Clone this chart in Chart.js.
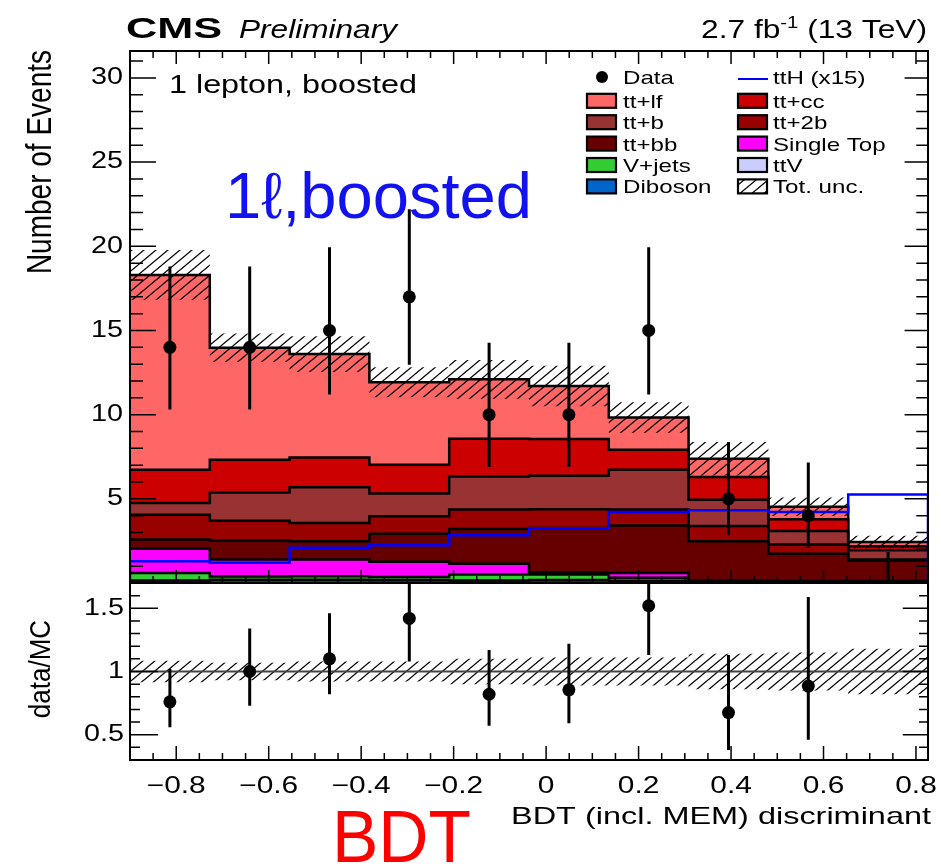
<!DOCTYPE html>
<html>
<head>
<meta charset="utf-8">
<script src="https://cdn.jsdelivr.net/npm/chart.js@4.4.1/dist/chart.umd.min.js"></script>
<style>
  html, body { margin: 0; padding: 0; background: #fff; }
  #wrap { position: relative; width: 941px; height: 868px; }
  #wrap canvas { position: absolute; left: 0; top: 0; }
</style>
</head>
<body>
<div id="wrap">
  <canvas id="mainChart" width="941" height="868"></canvas>
  <canvas id="ratioChart" width="941" height="868"></canvas>
</div>
<script>
// bins of the BDT output
const binEdges = [-0.9, -0.7274, -0.5548, -0.3822, -0.2096, -0.037, 0.1356, 0.3082, 0.4808, 0.6534, 0.826];
const xTicks = [-0.8, -0.6, -0.4, -0.2, 0, 0.2, 0.4, 0.6, 0.8];
const xTickLabels = ["\u22120.8", "\u22120.6", "\u22120.4", "\u22120.2", "0", "0.2", "0.4", "0.6", "0.8"];
const yTicks = [5, 10, 15, 20, 25, 30];
const yTickLabels = ["5", "10", "15", "20", "25", "30"];
const ratioTicks = [0.5, 1, 1.5];
const ratioTickLabels = ["0.5", "1", "1.5"];

// backgrounds (events per bin)
const ttlf = [11.57, 6.66, 6.14, 4.91, 3.53, 3.15, 1.92, 1.09, 0.75, 0.26];
const ttcc = [1.98, 1.94, 1.78, 1.71, 2.24, 2.18, 1.18, 1.34, 0.69, 0.23];
const ttb = [0.69, 1.68, 2.11, 1.35, 1.97, 1.99, 2.37, 1.56, 0.81, 0.55];
const tt2b = [1.48, 1.18, 1.09, 1.04, 1.15, 1.11, 0.95, 0.91, 0.54, 0.07];
const ttbb = [0.55, 1.13, 1.09, 1.66, 2.07, 2.65, 2.81, 2.33, 1.62, 1.21];
const singleTop = [1.43, 1.01, 0.99, 0.91, 0.64, 0.12, 0.29, 0.03, 0.02, 0.02];
const vJets = [0.45, 0.18, 0.20, 0.17, 0.35, 0.32, 0.17, 0.02, 0.02, 0.02];
const ttV = [0.12, 0.17, 0.17, 0.15, 0.12, 0.15, 0.12, 0.08, 0.06, 0.06];
const diboson = [0.03, 0.03, 0.03, 0.03, 0.03, 0.03, 0.02, 0.02, 0.02, 0.02];
const totUnc = [1.48, 0.84, 1.06, 0.89, 1.15, 1.2, 0.9, 1.0, 0.55, 0.37];

// signal x15
const ttH15 = [1.29, 1.20, 2.09, 2.24, 2.83, 3.25, 4.22, 4.32, 4.22, 5.25];

// data
const dataCounts = [14, 14, 15, 17, 10, 10, 15, 5, 4, 0];
const dataLow = [10.3, 10.3, 11.2, 12.96, 6.89, 6.89, 11.2, 2.84, 2.09, 0];
const dataHigh = [18.8, 18.8, 19.95, 22.2, 14.27, 14.27, 19.95, 8.38, 7.16, 1.84];

// data/MC
const ratioVals = [0.76, 1.0, 1.1, 1.42, 0.82, 0.855, 1.52, 0.675, 0.885, null];
const ratioLow = [0.56, 0.73, 0.82, 1.08, 0.57, 0.59, 1.13, 0.38, 0.46, null];
const ratioHigh = [1.02, 1.34, 1.46, 1.86, 1.17, 1.22, 2.0, 1.13, 1.59, null];
const ratioUnc = [0.085, 0.07, 0.08, 0.08, 0.10, 0.11, 0.11, 0.14, 0.15, 0.18];

const SANS = '"Liberation Sans", Arial, Helvetica, sans-serif';
const SX = 1.3; // ROOT text in the picture is stretched sideways

const binCenters = binEdges.slice(0, -1).map((e, i) => (e + binEdges[i + 1]) / 2);

function steps(values) {
  const pts = [];
  values.forEach((v, i) => {
    pts.push({ x: binEdges[i], y: v }, { x: binEdges[i + 1], y: v });
  });
  return pts;
}

function hatch() {
  const c = document.createElement("canvas");
  c.width = 12;
  c.height = 10;
  const g = c.getContext("2d");
  g.strokeStyle = "#000";
  g.lineWidth = 1.3;
  g.beginPath();
  g.moveTo(0, 10); g.lineTo(12, 0);
  g.moveTo(-3, 2.5); g.lineTo(3, -2.5);
  g.moveTo(9, 12.5); g.lineTo(15, 7.5);
  g.stroke();
  return g.createPattern(c, "repeat");
}
const hatchFill = hatch();

function rootText(ctx, str, x, y, opt) {
  ctx.save();
  ctx.font = (opt.style || "normal") + " " + (opt.weight || "normal") + " " + opt.size + "px " + SANS;
  ctx.fillStyle = opt.color || "#000";
  ctx.textAlign = opt.align || "left";
  ctx.textBaseline = opt.baseline || "alphabetic";
  let sx = opt.sx || SX;
  if (opt.width) sx = opt.width / ctx.measureText(str).width;
  ctx.translate(x, y);
  ctx.scale(sx, 1);
  if (opt.rotate) ctx.rotate(opt.rotate);
  ctx.fillText(str, 0, 0);
  ctx.restore();
}

function errorBars(lows, highs) {
  return {
    id: "errorBars",
    afterDatasetsDraw(chart) {
      const { ctx, chartArea: a, scales: { x, y } } = chart;
      ctx.save();
      ctx.beginPath();
      ctx.rect(a.left, a.top, a.right - a.left, a.bottom - a.top);
      ctx.clip();
      ctx.strokeStyle = "#000";
      ctx.lineWidth = 3;
      ctx.beginPath();
      lows.forEach((lo, i) => {
        if (lo === null) return;
        const px = x.getPixelForValue(binCenters[i]);
        ctx.moveTo(px, y.getPixelForValue(lo));
        ctx.lineTo(px, y.getPixelForValue(highs[i]));
      });
      ctx.stroke();
      ctx.restore();
    },
  };
}

function drawFrame(chart, yMinor, yMajorEvery, yLen, xLen, topTicks) {
  const { ctx, chartArea: a, scales: { x, y } } = chart;
  ctx.save();
  ctx.strokeStyle = "#000";
  ctx.lineWidth = 2;
  ctx.strokeRect(a.left, a.top, a.right - a.left, a.bottom - a.top);
  ctx.lineWidth = 1.5;
  ctx.beginPath();
  yMinor.forEach((v) => {
    const py = y.getPixelForValue(v);
    const L = yMajorEvery(v) ? yLen[0] : yLen[1];
    ctx.moveTo(a.left, py); ctx.lineTo(a.left + L, py);
    ctx.moveTo(a.right, py); ctx.lineTo(a.right - L * 0.9, py);
  });
  for (let k = -17; k <= 16; k++) {
    const px = x.getPixelForValue(k * 0.05);
    const L = k % 4 === 0 ? xLen[0] : xLen[1];
    ctx.moveTo(px, a.bottom); ctx.lineTo(px, a.bottom - L);
    if (topTicks) { ctx.moveTo(px, a.top); ctx.lineTo(px, a.top + L); }
  }
  ctx.stroke();
  ctx.restore();
}

// stack, bottom to top
const stackOrder = [
  { label: "Diboson", values: diboson, color: "#0066cc" },
  { label: "ttV", values: ttV, color: "#ccccff" },
  { label: "V+jets", values: vJets, color: "#33cc33" },
  { label: "Single Top", values: singleTop, color: "#ff00ff" },
  { label: "tt+bb", values: ttbb, color: "#660000" },
  { label: "tt+2b", values: tt2b, color: "#990000" },
  { label: "tt+b", values: ttb, color: "#993333" },
  { label: "tt+cc", values: ttcc, color: "#cc0000" },
  { label: "tt+lf", values: ttlf, color: "#ff6666" },
];
const colorOf = {};
stackOrder.forEach((s) => (colorOf[s.label] = s.color));

let running = new Array(binEdges.length - 1).fill(0);
const stackSets = stackOrder.map((s, idx) => {
  running = running.map((r, i) => r + s.values[i]);
  return {
    label: s.label,
    data: steps(running.slice()),
    borderColor: "#000",
    borderWidth: 2.5,
    backgroundColor: s.color,
    fill: idx === 0 ? "origin" : "+1",
    pointRadius: 0,
  };
}).reverse();
const totals = running.slice();

const mainSets = [
  {
    label: "Data",
    data: dataCounts.map((v, i) => ({ x: binCenters[i], y: v })),
    showLine: false,
    pointRadius: (c) => (c.raw && c.raw.y > 0 ? 6.5 : 0),
    pointBackgroundColor: "#000",
    pointBorderWidth: 0,
  },
  {
    label: "ttH (x15)",
    data: [{ x: binEdges[0], y: 0 }].concat(steps(ttH15), [{ x: binEdges[binEdges.length - 1], y: 0 }]),
    borderColor: "#0000ff",
    borderWidth: 2.5,
    fill: false,
    pointRadius: 0,
  },
  {
    label: "Tot. unc.",
    data: steps(totals.map((t, i) => t + totUnc[i])),
    borderColor: "rgba(0,0,0,0)",
    borderWidth: 0,
    backgroundColor: hatchFill,
    fill: "+1",
    pointRadius: 0,
  },
  {
    label: "unc low",
    data: steps(totals.map((t, i) => t - totUnc[i])),
    borderColor: "rgba(0,0,0,0)",
    borderWidth: 0,
    fill: false,
    pointRadius: 0,
  },
].concat(stackSets);

const legendLeft = ["Data", "tt+lf", "tt+b", "tt+bb", "V+jets", "Diboson"];
const legendRight = ["ttH (x15)", "tt+cc", "tt+2b", "Single Top", "ttV", "Tot. unc."];

const mainDecor = {
  id: "mainDecor",
  afterDraw(chart) {
    const { ctx, chartArea: a, scales: { y } } = chart;
    const minor = [];
    for (let k = 1; k <= 31; k++) minor.push(k);
    drawFrame(chart, minor, (v) => v % 5 === 0, [26, 13], [13, 7], true);

    yTicks.forEach((v, i) => {
      rootText(ctx, yTickLabels[i], a.left - 7, y.getPixelForValue(v), { size: 23, align: "right", baseline: "middle", sx: 1.25 });
    });

    // header
    rootText(ctx, "CMS", 126, 38, { size: 30, weight: "bold", width: 96 });
    rootText(ctx, "Preliminary", 239, 38, { size: 26, style: "italic", width: 158 });
    const parts = [
      { t: "2.7 fb", s: 25, dy: 0 },
      { t: "-1", s: 16, dy: -10 },
      { t: " (13 TeV)", s: 25, dy: 0 },
    ];
    ctx.save();
    let w = 0;
    parts.forEach((p) => { ctx.font = p.s + "px " + SANS; p.w = ctx.measureText(p.t).width; w += p.w; });
    ctx.translate(927 - 226, 38);
    ctx.scale(226 / w, 1);
    ctx.fillStyle = "#000";
    let cx = 0;
    parts.forEach((p) => { ctx.font = p.s + "px " + SANS; ctx.fillText(p.t, cx, p.dy); cx += p.w; });
    ctx.restore();

    rootText(ctx, "1 lepton, boosted", 169, 93, { size: 26, width: 248 });
    rootText(ctx, "Number of Events", 51, 50, { size: 28, align: "right", rotate: -Math.PI / 2, sx: 1.25 });
    rootText(ctx, "data/MC", 50, 669, { size: 26, align: "center", rotate: -Math.PI / 2, sx: 1.15 });
    rootText(ctx, "BDT (incl. MEM) discriminant", 931, 824, { size: 24, align: "right", width: 420 });

    // overlay labels
    rootText(ctx, "1\u2113,boosted", 225, 218, { size: 65, width: 307, color: "#1212f0" });
    rootText(ctx, "BDT", 332, 862, { size: 75, width: 139, color: "#ff0000" });

    // legend
    const rows = [77, 100.8, 122.2, 143.6, 165, 186.4];
    ctx.save();
    rows.forEach((ry, i) => {
      const lab1 = legendLeft[i], lab2 = legendRight[i];
      const base = i === 0 ? 84 : ry + 7;
      if (lab1 === "Data") {
        ctx.fillStyle = "#000";
        ctx.beginPath(); ctx.arc(602, ry, 6, 0, Math.PI * 2); ctx.fill();
      } else {
        ctx.fillStyle = colorOf[lab1];
        ctx.fillRect(587, ry - 7, 29, 14);
        ctx.strokeStyle = "#000"; ctx.lineWidth = 2.2;
        ctx.strokeRect(587, ry - 7, 29, 14);
      }
      rootText(ctx, lab1, 623, base, { size: 19, sx: 1.27 });
      if (lab2 === "ttH (x15)") {
        ctx.strokeStyle = "#0000ff"; ctx.lineWidth = 2;
        ctx.beginPath(); ctx.moveTo(738, 79); ctx.lineTo(768, 79); ctx.stroke();
      } else {
        ctx.fillStyle = lab2 === "Tot. unc." ? "#fff" : colorOf[lab2];
        ctx.fillRect(738, ry - 7, 29, 14);
        if (lab2 === "Tot. unc.") { ctx.fillStyle = hatchFill; ctx.fillRect(738, ry - 7, 29, 14); }
        ctx.strokeStyle = "#000"; ctx.lineWidth = 2.2;
        ctx.strokeRect(738, ry - 7, 29, 14);
      }
      rootText(ctx, lab2, 773, base, { size: 19, sx: 1.27 });
    });
    ctx.restore();
  },
};

new Chart(document.getElementById("mainChart"), {
  type: "line",
  data: { datasets: mainSets },
  options: {
    responsive: false,
    animation: false,
    devicePixelRatio: 1,
    events: [],
    layout: { padding: { left: 130, top: 51, right: 13, bottom: 285 } },
    scales: {
      x: { type: "linear", min: binEdges[0], max: binEdges[binEdges.length - 1], display: false },
      y: { type: "linear", min: 0, max: 31.6, display: false },
    },
    elements: { line: { tension: 0 } },
    plugins: {
      legend: { display: false },
      tooltip: { enabled: false },
      filler: { drawTime: "beforeDatasetsDraw" },
    },
  },
  plugins: [errorBars(dataLow, dataHigh), mainDecor],
});

// ratio panel
const ratioSets = [
  {
    label: "data/MC",
    data: ratioVals.map((v, i) => ({ x: binCenters[i], y: v })),
    showLine: false,
    pointRadius: 6.5,
    pointBackgroundColor: "#000",
    pointBorderWidth: 0,
  },
  {
    label: "unity",
    data: [{ x: binEdges[0], y: 1 }, { x: binEdges[binEdges.length - 1], y: 1 }],
    borderColor: "#444",
    borderWidth: 2,
    fill: false,
    pointRadius: 0,
  },
  {
    label: "unc high",
    data: steps(ratioUnc.map((u) => 1 + u)),
    borderColor: "rgba(0,0,0,0)",
    borderWidth: 0,
    backgroundColor: hatchFill,
    fill: "+1",
    pointRadius: 0,
  },
  {
    label: "unc low",
    data: steps(ratioUnc.map((u) => 1 - u)),
    borderColor: "rgba(0,0,0,0)",
    borderWidth: 0,
    fill: false,
    pointRadius: 0,
  },
];

const ratioDecor = {
  id: "ratioDecor",
  afterDraw(chart) {
    const { ctx, chartArea: a, scales: { x, y } } = chart;
    const minor = [];
    for (let k = 4; k <= 16; k++) minor.push(k / 10);
    drawFrame(chart, minor, (v) => Math.abs(v * 2 - Math.round(v * 2)) < 1e-6, [28, 10], [14, 7], false);
    ratioTicks.forEach((v, i) => {
      rootText(ctx, ratioTickLabels[i], a.left - 6, y.getPixelForValue(v), { size: 23, align: "right", baseline: "middle", sx: 1.25 });
    });
    xTicks.forEach((v, i) => {
      rootText(ctx, xTickLabels[i], x.getPixelForValue(v), 793, { size: 23, align: "center", sx: 1.3 });
    });
  },
};

new Chart(document.getElementById("ratioChart"), {
  type: "line",
  data: { datasets: ratioSets },
  options: {
    responsive: false,
    animation: false,
    devicePixelRatio: 1,
    events: [],
    layout: { padding: { left: 130, top: 583, right: 13, bottom: 108 } },
    scales: {
      x: { type: "linear", min: binEdges[0], max: binEdges[binEdges.length - 1], display: false },
      y: { type: "linear", min: 0.3, max: 1.7, display: false },
    },
    elements: { line: { tension: 0 } },
    plugins: {
      legend: { display: false },
      tooltip: { enabled: false },
      filler: { drawTime: "beforeDatasetsDraw" },
    },
  },
  plugins: [errorBars(ratioLow, ratioHigh), ratioDecor],
});
</script>
</body>
</html>
